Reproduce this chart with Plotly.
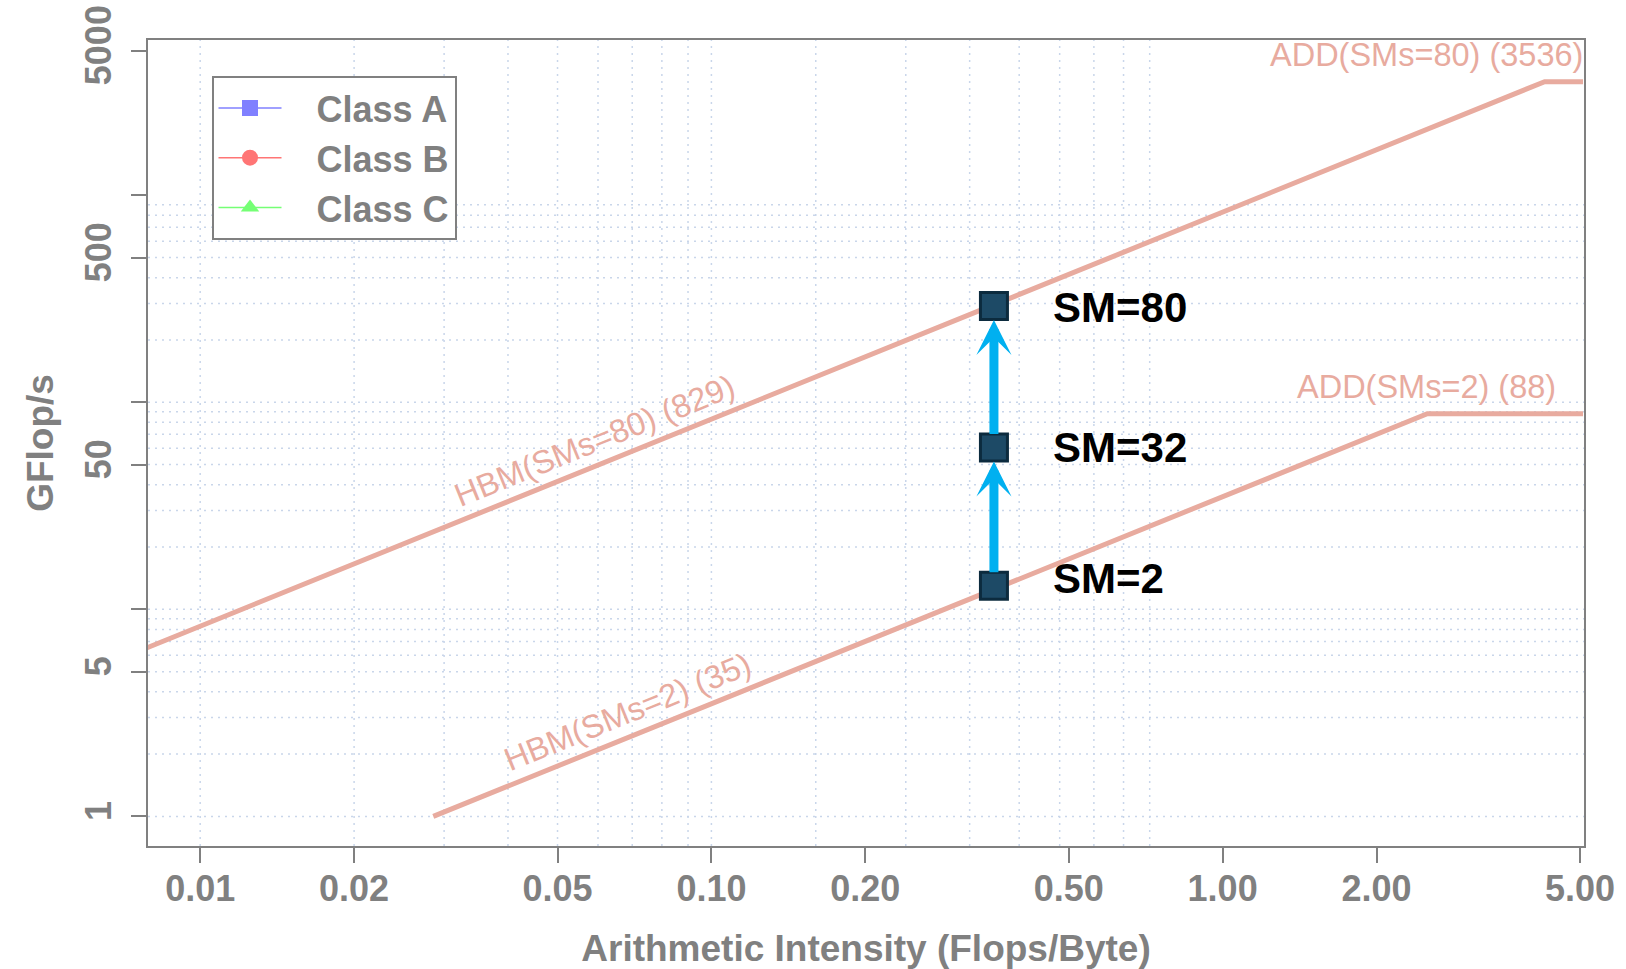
import numpy as np
import plotly.graph_objects as go

# ---------------- data ----------------
roof_names = ["SMs=80", "SMs=2"]
hbm_bw = [829, 35]            # GB/s
add_peak = [3536, 88]         # GFlop/s
hbm_start_x = [0.0075, 1 / 35]  # where each bandwidth roof starts

pt_labels = ["SM=2", "SM=32", "SM=80"]
pt_ai = [0.357, 0.357, 0.357]
pt_gflops = [13.0, 60.5, 292.0]
pt_label_dy = [7, 0, -2]

legend_names = ["Class A", "Class B", "Class C"]
legend_colors = ["#8080ff", "#ff7575", "#75ff75"]
legend_symbols = ["square", "circle", "triangle-up"]

x_tickvals = [0.01, 0.02, 0.05, 0.1, 0.2, 0.5, 1, 2, 5]
x_ticktext = ["0.01", "0.02", "0.05", "0.10", "0.20", "0.50", "1.00", "2.00", "5.00"]
y_tickvals = [1, 5, 10, 50, 100, 500, 1000, 5000]
y_ticktext = ["1", "5", "", "50", "", "500", "", "5000"]

x_grid = [0.01, 0.02, 0.03, 0.04, 0.05, 0.06, 0.07, 0.08, 0.09, 0.10,
          0.16, 0.24, 0.32, 0.40, 0.48, 0.56, 0.64, 0.72]
y_grid = [1, 2, 3, 4, 5, 6, 7, 8, 9, 10, 20, 30, 40, 50, 60, 70, 80, 90,
          100, 200, 300, 400, 500, 600, 700, 800, 900]

X_RANGE = [-2.1021, 0.7069]
Y_RANGE = [-0.143, 3.7498]
X_END = 5.07

hbm_label_x = [0.059, 0.0686]
add_label_x = 2.5

# ---------------- styles ----------------
FONT = "Liberation Sans, Arial, Helvetica, sans-serif"
GRAY = "#808080"
ROOF = "#e8ab9f"
GRID = "#c9d6ea"
W, H = 1626, 969
ML, MR, MT, MB = 148, 42, 40, 123
NB = "\u00a0"

fig = go.Figure()

# grid lines (drawn as traces in data space)
ylo, yhi = 10 ** Y_RANGE[0], 10 ** Y_RANGE[1]
xlo, xhi = 10 ** X_RANGE[0], 10 ** X_RANGE[1]
gx, gy = [], []
for v in x_grid:
    gx += [v, v, None]
    gy += [ylo, yhi, None]
fig.add_trace(go.Scatter(x=gx, y=gy, mode="lines", hoverinfo="skip", showlegend=False,
                         line=dict(color=GRID, width=1.5, dash="2px,5px")))
hx, hy = [], []
for v in y_grid:
    hx += [xlo, xhi, None]
    hy += [v, v, None]
fig.add_trace(go.Scatter(x=hx, y=hy, mode="lines", hoverinfo="skip", showlegend=False,
                         line=dict(color=GRID, width=1.5, dash="2px,5px")))

# roofs
for name, bw, pk, x0 in zip(roof_names, hbm_bw, add_peak, hbm_start_x):
    ridge = pk / bw
    xs = [x0, ridge, X_END]
    ys = [bw * x0, pk, pk]
    fig.add_trace(go.Scatter(x=xs, y=ys, mode="lines", hoverinfo="skip", showlegend=False,
                             line=dict(color=ROOF, width=5)))

# legend entries
for n, c, s in zip(legend_names, legend_colors, legend_symbols):
    fig.add_trace(go.Scatter(x=[None], y=[None], mode="lines+markers",
                             name=NB * 3 + n,
                             line=dict(color=c, width=1.5),
                             marker=dict(symbol=s, size=16, color=c)))

# points
fig.add_trace(go.Scatter(x=pt_ai, y=pt_gflops, mode="markers", showlegend=False,
                         marker=dict(symbol="square", size=27, color="#1d4a66",
                                     line=dict(color="#0c2b3e", width=3))))

annotations = []
# arrows between points
for i in range(len(pt_ai) - 1):
    annotations.append(dict(
        x=np.log10(pt_ai[i + 1]), y=np.log10(pt_gflops[i + 1]),
        ax=np.log10(pt_ai[i]), ay=np.log10(pt_gflops[i]),
        xref="x", yref="y", axref="x", ayref="y", text="",
        showarrow=True, arrowhead=3, arrowsize=0.65, arrowwidth=9,
        arrowcolor="#00b0f0", standoff=14, startstandoff=12))
# point labels
for lab, xv, yv, dy in zip(pt_labels, pt_ai, pt_gflops, pt_label_dy):
    annotations.append(dict(x=np.log10(xv), y=np.log10(yv), xref="x", yref="y",
                            text=lab, showarrow=False, xanchor="left", yanchor="middle",
                            xshift=57, yshift=dy,
                            font=dict(family=FONT, size=42, color="black", weight="bold")))

# roof labels
pw, ph = W - ML - MR, H - MT - MB
angle = -np.degrees(np.arctan((ph / (Y_RANGE[1] - Y_RANGE[0])) / (pw / (X_RANGE[1] - X_RANGE[0]))))
for name, bw, pk, lx in zip(roof_names, hbm_bw, add_peak, hbm_label_x):
    annotations.append(dict(x=np.log10(lx), y=np.log10(bw * lx), xref="x", yref="y",
                            text=f"HBM({name}) ({bw})", showarrow=False, textangle=angle,
                            xanchor="center", yanchor="middle", yshift=26,
                            font=dict(family=FONT, size=32.5, color=ROOF)))
    annotations.append(dict(x=np.log10(add_label_x), y=np.log10(pk), xref="x", yref="y",
                            text=f"ADD({name}) ({pk})", showarrow=False,
                            xanchor="center", yanchor="middle", yshift=27,
                            font=dict(family=FONT, size=32.5, color=ROOF)))

axis_common = dict(type="log", showgrid=False, zeroline=False, showline=True, mirror=True,
                   linecolor=GRAY, linewidth=2, ticks="outside", ticklen=15, tickwidth=2,
                   tickcolor=GRAY, tickmode="array", automargin=False,
                   tickfont=dict(family=FONT, size=36, color=GRAY, weight="bold"))

fig.update_layout(
    width=W, height=H,
    margin=dict(l=ML, r=MR, t=MT, b=MB),
    paper_bgcolor="white", plot_bgcolor="white",
    xaxis=dict(**axis_common, range=X_RANGE, tickvals=x_tickvals, ticktext=x_ticktext,
               ticklabelstandoff=-5,
               title=dict(text="Arithmetic Intensity (Flops/Byte)", standoff=30,
                          font=dict(family=FONT, size=37, color=GRAY, weight="bold"))),
    yaxis=dict(**axis_common, range=Y_RANGE, tickvals=y_tickvals, ticktext=y_ticktext,
               tickangle=-90, ticklabelstandoff=6,
               title=dict(text="GFlop/s", standoff=13,
                          font=dict(family=FONT, size=37, color=GRAY, weight="bold"))),
    legend=dict(x=(211.5 - ML) / pw, y=1 - (76 - MT) / ph, xanchor="left", yanchor="top",
                bgcolor="white", bordercolor=GRAY, borderwidth=2,
                font=dict(family=FONT, size=36, color=GRAY, weight="bold"),
                itemwidth=63),
    annotations=annotations,
    showlegend=True,
)

fig.write_html("out.html")
